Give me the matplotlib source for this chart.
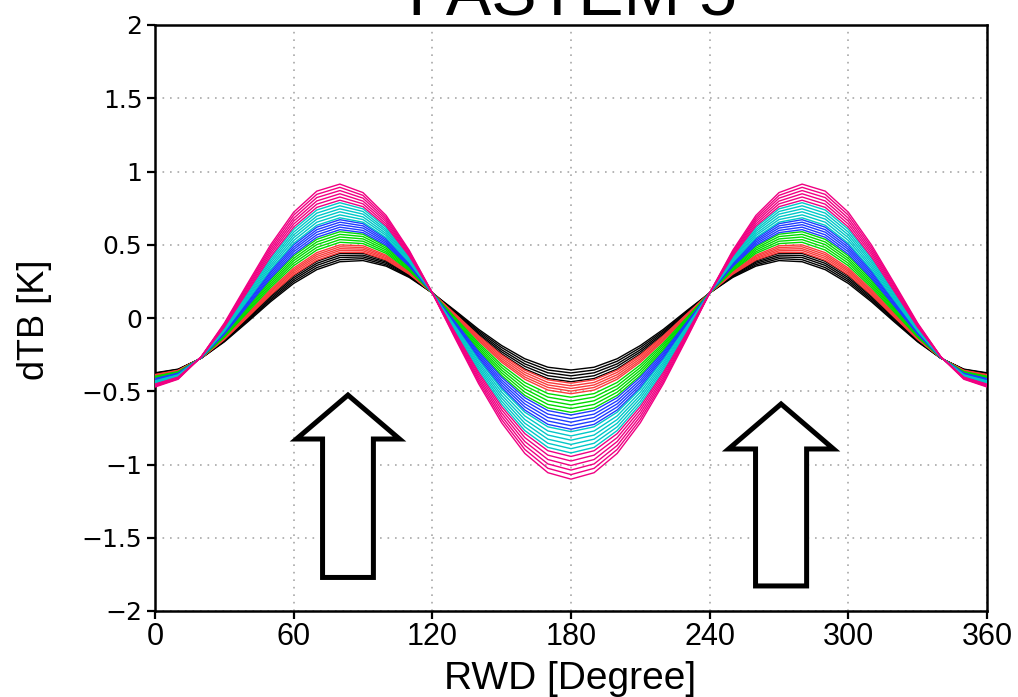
import numpy as np
import matplotlib
matplotlib.use('Agg')
import matplotlib.pyplot as plt
from matplotlib.patches import FancyArrow

# relative wind direction, 0..180 (curves are symmetric about 180)
rwd_half = [0, 10, 20, 30, 40, 50, 60, 70, 80, 90, 100, 110, 120, 130, 140, 150, 160, 170, 180]

black_lines = [
    [-0.374, -0.349, -0.275, -0.163, -0.028, 0.111, 0.236, 0.330, 0.384, 0.392, 0.354, 0.277, 0.171, 0.049, -0.077, -0.188, -0.278, -0.336, -0.355],
    [-0.377, -0.351, -0.274, -0.159, -0.021, 0.121, 0.249, 0.344, 0.398, 0.405, 0.363, 0.282, 0.171, 0.043, -0.087, -0.202, -0.295, -0.355, -0.375],
    [-0.379, -0.353, -0.274, -0.156, -0.014, 0.131, 0.262, 0.359, 0.413, 0.417, 0.373, 0.287, 0.171, 0.038, -0.097, -0.217, -0.313, -0.374, -0.395],
    [-0.382, -0.354, -0.274, -0.152, -0.007, 0.142, 0.275, 0.373, 0.427, 0.429, 0.382, 0.292, 0.171, 0.033, -0.107, -0.231, -0.330, -0.394, -0.415],
    [-0.385, -0.356, -0.273, -0.149, 0.000, 0.152, 0.288, 0.387, 0.441, 0.442, 0.391, 0.297, 0.171, 0.028, -0.117, -0.245, -0.348, -0.413, -0.435],
]
red_lines = [
    [-0.386, -0.357, -0.273, -0.147, 0.004, 0.157, 0.294, 0.394, 0.448, 0.448, 0.396, 0.299, 0.171, 0.026, -0.121, -0.252, -0.356, -0.422, -0.445],
    [-0.388, -0.359, -0.273, -0.144, 0.010, 0.167, 0.306, 0.407, 0.461, 0.459, 0.404, 0.304, 0.171, 0.021, -0.130, -0.264, -0.371, -0.440, -0.463],
    [-0.391, -0.360, -0.273, -0.141, 0.016, 0.176, 0.318, 0.420, 0.473, 0.470, 0.412, 0.308, 0.171, 0.016, -0.139, -0.277, -0.387, -0.457, -0.481],
    [-0.393, -0.362, -0.273, -0.138, 0.023, 0.185, 0.329, 0.433, 0.486, 0.481, 0.421, 0.312, 0.171, 0.012, -0.148, -0.290, -0.403, -0.474, -0.499],
    [-0.395, -0.364, -0.272, -0.135, 0.029, 0.195, 0.341, 0.446, 0.499, 0.493, 0.429, 0.317, 0.171, 0.007, -0.157, -0.302, -0.418, -0.492, -0.517],
]
green_lines = [
    [-0.398, -0.366, -0.272, -0.131, 0.038, 0.208, 0.357, 0.464, 0.517, 0.508, 0.441, 0.323, 0.171, 0.001, -0.170, -0.320, -0.440, -0.516, -0.541],
    [-0.402, -0.368, -0.272, -0.126, 0.047, 0.221, 0.374, 0.482, 0.535, 0.524, 0.452, 0.329, 0.171, -0.006, -0.182, -0.338, -0.462, -0.540, -0.567],
    [-0.405, -0.371, -0.271, -0.122, 0.056, 0.234, 0.391, 0.501, 0.553, 0.540, 0.464, 0.336, 0.171, -0.012, -0.195, -0.356, -0.484, -0.565, -0.593],
    [-0.408, -0.373, -0.271, -0.118, 0.064, 0.248, 0.407, 0.519, 0.571, 0.556, 0.476, 0.342, 0.171, -0.019, -0.208, -0.374, -0.506, -0.590, -0.618],
    [-0.412, -0.376, -0.270, -0.113, 0.073, 0.261, 0.424, 0.537, 0.589, 0.572, 0.488, 0.348, 0.171, -0.025, -0.220, -0.392, -0.528, -0.614, -0.644],
]
blue_lines = [
    [-0.414, -0.377, -0.270, -0.110, 0.080, 0.271, 0.436, 0.551, 0.603, 0.583, 0.497, 0.353, 0.171, -0.030, -0.230, -0.405, -0.544, -0.632, -0.662],
    [-0.417, -0.380, -0.270, -0.106, 0.088, 0.283, 0.452, 0.568, 0.620, 0.598, 0.508, 0.359, 0.171, -0.036, -0.242, -0.423, -0.565, -0.656, -0.686],
    [-0.421, -0.382, -0.270, -0.102, 0.097, 0.296, 0.468, 0.586, 0.637, 0.614, 0.519, 0.365, 0.171, -0.043, -0.254, -0.440, -0.586, -0.679, -0.711],
    [-0.424, -0.384, -0.269, -0.098, 0.105, 0.309, 0.483, 0.603, 0.654, 0.629, 0.530, 0.371, 0.171, -0.049, -0.266, -0.457, -0.607, -0.703, -0.735],
    [-0.427, -0.386, -0.269, -0.094, 0.114, 0.321, 0.499, 0.620, 0.671, 0.644, 0.541, 0.377, 0.171, -0.055, -0.278, -0.474, -0.628, -0.726, -0.759],
]
cyan_lines = [
    [-0.429, -0.388, -0.269, -0.091, 0.120, 0.330, 0.510, 0.633, 0.684, 0.654, 0.549, 0.381, 0.171, -0.059, -0.286, -0.486, -0.643, -0.743, -0.776],
    [-0.433, -0.391, -0.268, -0.086, 0.130, 0.345, 0.529, 0.654, 0.704, 0.672, 0.563, 0.388, 0.171, -0.067, -0.301, -0.506, -0.668, -0.771, -0.805],
    [-0.437, -0.393, -0.268, -0.081, 0.140, 0.360, 0.548, 0.675, 0.725, 0.690, 0.576, 0.396, 0.171, -0.074, -0.315, -0.527, -0.693, -0.799, -0.834],
    [-0.440, -0.396, -0.267, -0.076, 0.150, 0.376, 0.567, 0.695, 0.745, 0.709, 0.590, 0.403, 0.171, -0.082, -0.330, -0.547, -0.718, -0.827, -0.863],
    [-0.444, -0.399, -0.267, -0.071, 0.161, 0.391, 0.586, 0.716, 0.766, 0.727, 0.603, 0.410, 0.171, -0.089, -0.344, -0.568, -0.743, -0.855, -0.892],
    [-0.448, -0.401, -0.266, -0.066, 0.171, 0.406, 0.605, 0.737, 0.787, 0.745, 0.617, 0.417, 0.171, -0.097, -0.359, -0.588, -0.768, -0.883, -0.921],
]
pink_lines = [
    [-0.451, -0.404, -0.266, -0.062, 0.179, 0.418, 0.621, 0.755, 0.804, 0.760, 0.628, 0.423, 0.171, -0.103, -0.371, -0.606, -0.789, -0.906, -0.945],
    [-0.455, -0.406, -0.266, -0.056, 0.190, 0.435, 0.641, 0.777, 0.826, 0.779, 0.642, 0.431, 0.171, -0.111, -0.386, -0.627, -0.816, -0.936, -0.976],
    [-0.459, -0.409, -0.265, -0.051, 0.201, 0.451, 0.661, 0.799, 0.848, 0.798, 0.657, 0.438, 0.171, -0.119, -0.402, -0.649, -0.843, -0.966, -1.007],
    [-0.463, -0.412, -0.265, -0.046, 0.212, 0.467, 0.681, 0.822, 0.870, 0.818, 0.671, 0.446, 0.171, -0.127, -0.417, -0.671, -0.870, -0.996, -1.038],
    [-0.467, -0.415, -0.264, -0.041, 0.223, 0.483, 0.702, 0.844, 0.892, 0.837, 0.685, 0.454, 0.171, -0.135, -0.433, -0.693, -0.897, -1.026, -1.069],
    [-0.471, -0.418, -0.264, -0.035, 0.234, 0.499, 0.722, 0.866, 0.914, 0.856, 0.700, 0.462, 0.171, -0.143, -0.448, -0.715, -0.924, -1.056, -1.100],
]

groups = [
    (black_lines, '#000000'),
    (red_lines, '#fa3c3c'),
    (green_lines, '#00dc00'),
    (blue_lines, '#1e3cff'),
    (cyan_lines, '#00c8c8'),
    (pink_lines, '#f00082'),
]

xticks = [0, 60, 120, 180, 240, 300, 360]
yticks = [-2, -1.5, -1, -0.5, 0, 0.5, 1, 1.5, 2]
ytick_labels = ['\u22122', '\u22121.5', '\u22121', '\u22120.5', '0', '0.5', '1', '1.5', '2']

helv = ['Liberation Sans', 'DejaVu Sans']


def full_circle(v):
    # 0..180 read values, mirrored onto 190..360
    v = list(v)
    return v + v[-2::-1]


rwd = rwd_half + [360 - a for a in rwd_half[-2::-1]]

fig = plt.figure(figsize=(10.18, 6.97), dpi=100)
ax = fig.add_axes([155 / 1018, 1 - 611 / 697, 832 / 1018, 586 / 697])

for lines, color in groups:
    for vals in lines:
        ax.plot(rwd, full_circle(vals), color=color, lw=1.0, zorder=3)

# the two hollow arrows
for x0, y0, dy, w, hw, hl in [(83.5, -1.771, 1.245, 22.0, 44.6, 0.30),
                               (270.9, -1.829, 1.242, 22.1, 45.4, 0.307)]:
    ax.add_patch(FancyArrow(x0, y0, 0, dy, width=w, head_width=hw, head_length=hl,
                            length_includes_head=True, facecolor='white',
                            edgecolor='black', lw=3.6, joinstyle='miter', zorder=5))

ax.set_xlim(0, 360)
ax.set_ylim(-2, 2)
ax.set_xticks(xticks)
ax.set_yticks(yticks)
ax.set_xticklabels([str(t) for t in xticks], family=helv, fontsize=22)
ax.set_yticklabels(ytick_labels, family='DejaVu Sans', fontsize=18)
ax.tick_params(direction='out', length=6, width=1.6)
ax.tick_params(axis='x', pad=2)
ax.tick_params(axis='y', pad=3)
ax.grid(True, color='#a8a8a8', linestyle=(0, (1, 3.5)), lw=1.2, zorder=1)
for s in ax.spines.values():
    s.set_linewidth(1.8)

fig.text(570 / 1018, 1 - 689 / 697, 'RWD [Degree]', ha='center', va='baseline',
         family=helv, fontsize=28)
fig.text(34 / 1018, 1 - 320 / 697, 'dTB [K]', ha='center', va='center', rotation=90,
         family=helv, fontsize=26)

fig.text(573 / 1018, 1 - 15 / 697, 'FASTEM 5', ha='center', va='baseline',
         family=helv, fontsize=49)

fig.savefig('out.png', dpi=100)
